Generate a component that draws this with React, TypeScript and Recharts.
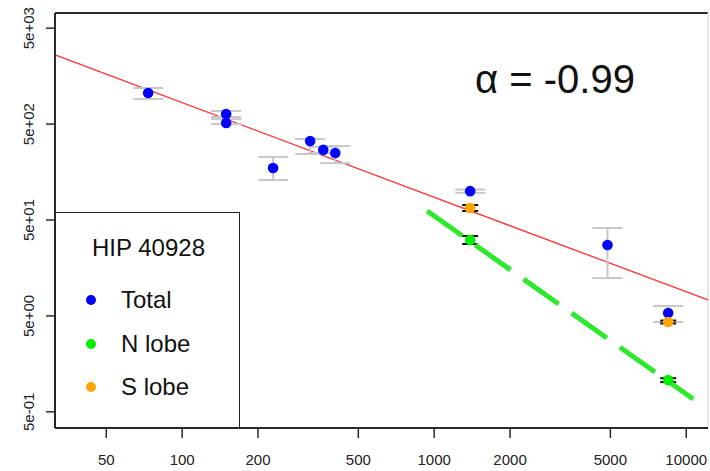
import React from 'react';
import { ScatterChart, Scatter, XAxis, YAxis, ReferenceLine, ErrorBar, Legend } from 'recharts';

// ---- axis ticks ----
const xTicks = [50, 100, 200, 500, 1000, 2000, 5000, 10000];
const xTickLabels = ['50', '100', '200', '500', '1000', '2000', '5000', '10000'];
const yTicks = [0.5, 5, 50, 500, 5000];
const yTickLabels = ['5e-01', '5e+00', '5e+01', '5e+02', '5e+03'];

// ---- Total ----
const totalX = [73.3, 149.5, 149.5, 229.5, 322, 363, 405, 1389, 4870, 8480];
const totalY = [1055, 637, 513, 174, 333, 269, 250, 100, 27.4, 5.36];
const totalErrLow = [141, 73, 13, 43.5, 89, 19, 54, 4, 15, 1.04];
const totalErrHigh = [135, 48, 79, 53, 17, 21, 45, 4, 13.9, 0.98];

// ---- N lobe ----
const nLobeX = [1389, 8480];
const nLobeY = [30.9, 1.07];
const nLobeErrLow = [2.8, 0.05];
const nLobeErrHigh = [3.1, 0.05];

// ---- S lobe ----
const sLobeX = [1389, 8480];
const sLobeY = [66.7, 4.32];
const sLobeErrLow = [4.6, 0.15];
const sLobeErrHigh = [4.9, 0.15];

// ---- fitted power laws (endpoints) ----
const fitTotal = [{ x: 31.3, y: 2628 }, { x: 12200, y: 7.33 }];
const fitNLobe = [{ x: 938, y: 62.1 }, { x: 10660, y: 0.679 }];

const alphaLabel = '\u03b1 = -0.99';
const legendTitle = 'HIP 40928';

const BLUE = '#0000ff';
const GREEN = '#00ee00';
const ORANGE = '#ffa500';
const FONT = '"Liberation Sans", Arial, Helvetica, sans-serif';

const legendItems = [
  { label: 'Total', color: BLUE },
  { label: 'N lobe', color: GREEN },
  { label: 'S lobe', color: ORANGE },
];

const X_DOMAIN: [number, number] = [31.3, 12200];
const Y_DOMAIN: [number, number] = [0.339, 7200];

const build = (xs: number[], ys: number[], lo: number[], hi: number[]) =>
  xs.map((x, i) => ({ x, y: ys[i], err: [lo[i], hi[i]] }));

const totalData = build(totalX, totalY, totalErrLow, totalErrHigh);
const nLobeData = build(nLobeX, nLobeY, nLobeErrLow, nLobeErrHigh);
const sLobeData = build(sLobeX, sLobeY, sLobeErrLow, sLobeErrHigh);

const dot = (color: string) => (props: any) => (
  <circle cx={props.cx} cy={props.cy} r={5.3} fill={color} />
);

const YTick = (props: any) => {
  const { y, payload } = props;
  const idx = yTicks.indexOf(payload.value);
  const label = idx >= 0 ? yTickLabels[idx] : String(payload.value);
  return (
    <text
      x={29}
      y={y}
      transform={`rotate(-90, 29, ${y})`}
      textAnchor="middle"
      dominantBaseline="central"
      fontSize={15}
      fontFamily={FONT}
      fill="#222"
    >
      {label}
    </text>
  );
};

const LegendBox = () => (
  <div
    style={{
      position: 'relative',
      width: 185,
      height: 216,
      boxSizing: 'border-box',
      border: '1.5px solid #222',
      background: '#fff',
      fontFamily: FONT,
      fontSize: 24,
      color: '#111',
    }}
  >
    <div style={{ position: 'absolute', left: 0, width: 185, top: 21, lineHeight: '28px', textAlign: 'center' }}>
      {legendTitle}
    </div>
    {legendItems.map((it, i) => (
      <div key={it.label} style={{ position: 'absolute', left: 0, top: 73 + i * 43.5, height: 28, width: 185 }}>
        <div
          style={{
            position: 'absolute',
            left: 29.5,
            top: 9,
            width: 10,
            height: 10,
            borderRadius: 5,
            background: it.color,
          }}
        />
        <div style={{ position: 'absolute', left: 65, top: 0, lineHeight: '28px' }}>{it.label}</div>
      </div>
    ))}
  </div>
);

export default function App() {
  return (
    <div style={{ position: 'absolute', left: 0, top: 0, width: 710, height: 471, background: '#fff' }}>
      <ScatterChart width={710} height={471} margin={{ top: 13, right: 2, bottom: 0, left: 0 }}>
        <XAxis
          dataKey="x"
          type="number"
          scale="log"
          domain={X_DOMAIN}
          ticks={xTicks}
          allowDataOverflow
          height={43}
          tickSize={10}
          tickMargin={16}
          tickFormatter={(v: number) => xTickLabels[xTicks.indexOf(v)] ?? String(v)}
          tick={{ fontSize: 15, fontFamily: FONT, fill: '#222' }}
          axisLine={{ stroke: '#2a2a2a', strokeWidth: 2 }}
          tickLine={{ stroke: '#2a2a2a', strokeWidth: 1.5 }}
          interval={0}
        />
        <YAxis
          dataKey="y"
          type="number"
          scale="log"
          domain={Y_DOMAIN}
          ticks={yTicks}
          allowDataOverflow
          width={55}
          tickSize={9}
          tick={<YTick />}
          axisLine={{ stroke: '#2a2a2a', strokeWidth: 2 }}
          tickLine={{ stroke: '#2a2a2a', strokeWidth: 1.5 }}
          interval={0}
        />
        <ReferenceLine y={Y_DOMAIN[1]} stroke="#2a2a2a" strokeWidth={2} ifOverflow="visible" />
        <ReferenceLine x={X_DOMAIN[1]} stroke="#dcdcdc" strokeWidth={1.5} ifOverflow="visible" />
        <ReferenceLine
          segment={fitTotal}
          stroke="#ff3030"
          strokeWidth={1.3}
          ifOverflow="visible"
        />
        <Scatter data={totalData} fill={BLUE} shape={dot(BLUE)} isAnimationActive={false}>
          <ErrorBar dataKey="err" direction="y" width={15} stroke="#c8c8c8" strokeWidth={2} isAnimationActive={false} />
        </Scatter>
        <Scatter data={sLobeData} fill={ORANGE} shape={dot(ORANGE)} isAnimationActive={false}>
          <ErrorBar dataKey="err" direction="y" width={8} stroke="#111" strokeWidth={2} isAnimationActive={false} />
        </Scatter>
        <Scatter data={nLobeData} fill={GREEN} shape={dot(GREEN)} isAnimationActive={false}>
          <ErrorBar dataKey="err" direction="y" width={8} stroke="#111" strokeWidth={2} isAnimationActive={false} />
        </Scatter>
        <ReferenceLine
          segment={fitNLobe}
          stroke="#2ee82e"
          strokeWidth={5}
          strokeDasharray="43 16"
          ifOverflow="visible"
        />
        <Legend
          layout="vertical"
          align="center"
          verticalAlign="middle"
          content={() => <LegendBox />}
          wrapperStyle={{ position: 'absolute', left: 55, top: 212, width: 185, height: 216 }}
        />
      </ScatterChart>
      <div
        style={{
          position: 'absolute',
          left: 475,
          top: 59,
          fontSize: 40,
          lineHeight: '40px',
          fontFamily: FONT,
          color: '#111',
          whiteSpace: 'nowrap',
        }}
      >
        {alphaLabel}
      </div>
    </div>
  );
}
